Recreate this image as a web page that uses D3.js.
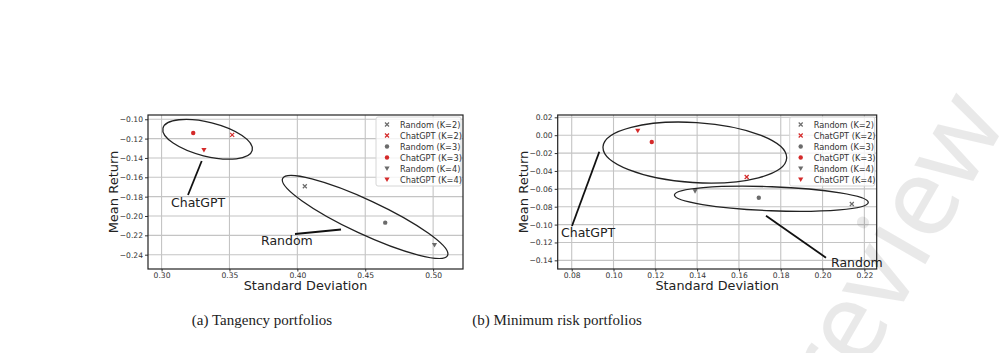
<!DOCTYPE html>
<html>
<head>
<meta charset="utf-8">
<script src="https://cdn.jsdelivr.net/npm/d3@7"></script>
<style>
body { margin: 0; background: #fff; }
svg { display: block; }
</style>
</head>
<body>
<svg id="chart" width="1000" height="353"></svg>
<script>
// series order as in the legend
var seriesNames = ["Random (K=2)", "ChatGPT (K=2)", "Random (K=3)", "ChatGPT (K=3)", "Random (K=4)", "ChatGPT (K=4)"]
var seriesShapes = ["x", "x", "circle", "circle", "tri", "tri"]
var seriesGroup = ["Random", "ChatGPT", "Random", "ChatGPT", "Random", "ChatGPT"]

// (a) tangency portfolios
var tangencyStd = [0.4055, 0.352, 0.4647, 0.3233, 0.501, 0.3312]
var tangencyRet = [-0.1693, -0.1162, -0.2069, -0.1142, -0.230, -0.1317]
var tangencyXTicks = [0.30, 0.35, 0.40, 0.45, 0.50]
var tangencyYTicks = [-0.10, -0.12, -0.14, -0.16, -0.18, -0.20, -0.22, -0.24]

// (b) minimum risk portfolios
var minRiskStd = [0.214, 0.1637, 0.1695, 0.1183, 0.139, 0.1116]
var minRiskRet = [-0.077, -0.0468, -0.070, -0.0076, -0.0625, 0.005]
var minRiskXTicks = [0.08, 0.10, 0.12, 0.14, 0.16, 0.18, 0.20, 0.22]
var minRiskYTicks = [0.02, 0.00, -0.02, -0.04, -0.06, -0.08, -0.10, -0.12, -0.14]

var captions = ["(a) Tangency portfolios", "(b) Minimum risk portfolios"]

var colors = {"Random": "#6b6b6b", "ChatGPT": "#d42a2a"}

var svg = d3.select("#chart")
var fmt = function(v){ return d3.format(".2f")(v).replace("-", "\u2212") }

var panels = [
{
  std: tangencyStd, ret: tangencyRet, xTicks: tangencyXTicks, yTicks: tangencyYTicks,
  xDomain: [0.290, 0.522], yDomain: [-0.2548, -0.0956],
  left: 148, right: 463, top: 115, bottom: 269,
  caption: captions[0], captionX: 262,
  // ellipses: center in data units, radii in px, rotation deg
  ellipses: [
    {cx: 0.3339, cy: -0.1207, rx: 46, ry: 17, rot: 14},
    {cx: 0.4499, cy: -0.2010, rx: 91, ry: 17, rot: 25}
  ],
  notes: [
    {text: "ChatGPT", tx: 171, ty: 207, from: [188, 195], to: [201.7, 161]},
    {text: "Random", tx: 261, ty: 245, from: [295, 234], to: [341, 229.5]}
  ]
},
{
  std: minRiskStd, ret: minRiskRet, xTicks: minRiskXTicks, yTicks: minRiskYTicks,
  xDomain: [0.0733, 0.2259], yDomain: [-0.1497, 0.0226],
  left: 557.7, right: 876.7, top: 115, bottom: 269,
  caption: captions[1], captionX: 557,
  ellipses: [
    {cx: 0.1389, cy: -0.0194, rx: 92, ry: 30, rot: 3.6},
    {cx: 0.1755, cy: -0.0711, rx: 97, ry: 12, rot: 2.2}
  ],
  notes: [
    {text: "ChatGPT", tx: 561, ty: 237, from: [572, 226], to: [599.3, 151.7]},
    {text: "Random", tx: 831, ty: 267, from: [826, 257.7], to: [766, 215.7]}
  ]
}
]

panels.forEach(function(p){

var x = d3.scaleLinear().domain(p.xDomain).range([p.left, p.right])
var y = d3.scaleLinear().domain(p.yDomain).range([p.bottom, p.top])
var g = svg.append("g")

//grid
g.selectAll(".gx").data(p.xTicks).enter().append("line")
.attr("x1", d => x(d)).attr("x2", d => x(d))
.attr("y1", p.top).attr("y2", p.bottom)
.attr("stroke", "#c4c4c4").attr("stroke-width", 1.1)

g.selectAll(".gy").data(p.yTicks).enter().append("line")
.attr("x1", p.left).attr("x2", p.right)
.attr("y1", d => y(d)).attr("y2", d => y(d))
.attr("stroke", "#c4c4c4").attr("stroke-width", 1.1)

//axes
var xAxis = d3.axisBottom(x).tickValues(p.xTicks).tickFormat(fmt).tickSize(2.5).tickPadding(1)
var yAxis = d3.axisLeft(y).tickValues(p.yTicks).tickFormat(fmt).tickSize(3).tickPadding(2)

var ax = g.append("g").attr("transform", "translate(0," + p.bottom + ")").call(xAxis)
var ay = g.append("g").attr("transform", "translate(" + p.left + ",0)").call(yAxis)
;[ax, ay].forEach(function(a){
  a.select(".domain").remove()
  a.selectAll("text").attr("font-family", "DejaVu Sans").attr("font-size", 7.6).attr("fill", "#333")
  a.selectAll("line").attr("stroke", "#333")
})

g.append("rect")
.attr("x", p.left).attr("y", p.top)
.attr("width", p.right - p.left).attr("height", p.bottom - p.top)
.attr("fill", "none").attr("stroke", "#222").attr("stroke-width", 1.2)

//ellipses
g.selectAll(".ell").data(p.ellipses).enter().append("ellipse")
.attr("transform", d => "translate(" + x(d.cx) + "," + y(d.cy) + ") rotate(" + d.rot + ")")
.attr("rx", d => d.rx).attr("ry", d => d.ry)
.attr("fill", "none").attr("stroke", "#222").attr("stroke-width", 1.3)

//annotation lines and text
g.selectAll(".nl").data(p.notes).enter().append("line")
.attr("x1", d => d.from[0]).attr("y1", d => d.from[1])
.attr("x2", d => d.to[0]).attr("y2", d => d.to[1])
.attr("stroke", "#111").attr("stroke-width", 1.8)

g.selectAll(".nt").data(p.notes).enter().append("text")
.attr("x", d => d.tx).attr("y", d => d.ty)
.attr("font-family", "DejaVu Sans").attr("font-size", 12.5).attr("fill", "#222")
.text(d => d.text)

//points
var idx = d3.range(seriesNames.length)
idx.forEach(function(i){
  drawMarker(g, seriesShapes[i], x(p.std[i]), y(p.ret[i]), colors[seriesGroup[i]])
})

//legend
var lx = p.right - 87, ly = p.top + 2
g.append("rect").attr("x", lx).attr("y", ly).attr("width", 85).attr("height", 69)
.attr("fill", "#fff").attr("fill-opacity", 0.8).attr("stroke", "#d6d6d6").attr("rx", 2)
idx.forEach(function(i){
  var ry = ly + 7.5 + i * 11
  drawMarker(g, seriesShapes[i], lx + 11, ry, colors[seriesGroup[i]])
  g.append("text").attr("x", lx + 24).attr("y", ry + 3)
  .attr("font-family", "DejaVu Sans").attr("font-size", 8.2).attr("fill", "#333")
  .text(seriesNames[i])
})

//axis titles
g.append("text")
.attr("transform", "translate(" + (p.left - 30) + "," + ((p.top + p.bottom) / 2) + ") rotate(-90)")
.attr("text-anchor", "middle")
.attr("font-family", "DejaVu Sans").attr("font-size", 13).attr("fill", "#222")
.text("Mean Return")

g.append("text")
.attr("x", (p.left + p.right) / 2).attr("y", p.bottom + 21)
.attr("text-anchor", "middle")
.attr("font-family", "DejaVu Sans").attr("font-size", 12.8).attr("fill", "#222")
.text("Standard Deviation")

g.append("text")
.attr("x", p.captionX).attr("y", 325)
.attr("text-anchor", "middle")
.attr("font-family", "Liberation Serif").attr("font-size", 15).attr("fill", "#222")
.text(p.caption)
})

function drawMarker(g, shape, cx, cy, color){
  if (shape == "x") {
    g.append("path").attr("d", "M-2,-2L2,2M-2,2L2,-2")
    .attr("transform", "translate(" + cx + "," + cy + ")")
    .attr("stroke", color).attr("stroke-width", 1.2).attr("fill", "none")
  } else if (shape == "circle") {
    g.append("circle").attr("cx", cx).attr("cy", cy).attr("r", 2.2).attr("fill", color)
  } else {
    g.append("path").attr("d", "M-2.6,-2L2.6,-2L0,2.6Z")
    .attr("transform", "translate(" + cx + "," + cy + ")")
    .attr("fill", color)
  }
}

// faint watermark along the right edge
svg.append("text")
.attr("transform", "translate(1008,121) rotate(-60)")
.attr("text-anchor", "end")
.attr("font-family", "Noto Sans").attr("font-size", 110).attr("fill", "#000").attr("fill-opacity", 0.085)
.text("review")
</script>
</body>
</html>
